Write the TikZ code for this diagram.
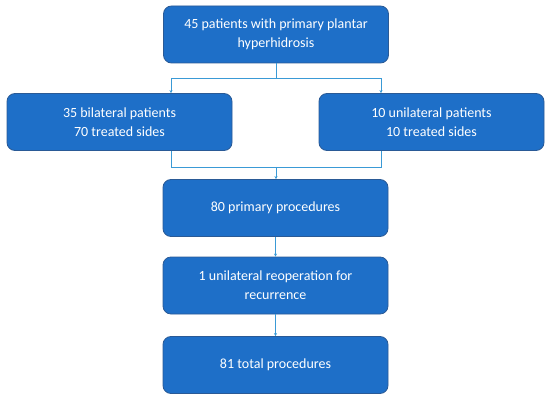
\documentclass[tikz,border=0pt]{standalone}
\usepackage{fontspec}
\setmainfont{Carlito}
\usetikzlibrary{arrows.meta,calc}
\definecolor{boxfill}{HTML}{1E6FC8}
\definecolor{boxdraw}{HTML}{2A5A96}
\definecolor{conncol}{HTML}{3A9AD6}
\begin{document}
\begin{tikzpicture}[x=1pt,y=1pt,
 box/.style={draw=boxdraw, line width=0.8pt, fill=boxfill, rounded corners=8pt, minimum width=225pt, minimum height=57pt, text=white, align=center, font=\fontsize{14}{19}\selectfont, inner sep=0pt},
 link/.style={draw=conncol, line width=0.9pt},
 arr/.style={link, -{Stealth[length=3pt,width=3pt]}}]
\useasboundingbox (0,0) rectangle (550,400);
\node[box] (top) at (276,365.5) {45 patients with primary plantar\\hyperhidrosis};
\node[box] (left) at (119.5,278) {35 bilateral patients\\70 treated sides};
\node[box] (right) at (431.5,278) {10 unilateral patients\\10 treated sides};
\node[box] (m1) at (275.5,192) {80 primary procedures};
\node[box] (m2) at (275.5,114.5) {1 unilateral reoperation for\\recurrence};
\node[box] (m3) at (275.5,35) {81 total procedures};
\coordinate (split) at (276,322);
\coordinate (join) at (276,233);
\coordinate (lx) at (171,0);
\coordinate (rx) at (381,0);
\draw[link] (top.south) -- (split);
\draw[arr] (split) -| (left.north -| lx);
\draw[arr] (split) -| (right.north -| rx);
\draw[link] (left.south -| lx) |- (join);
\draw[link] (right.south -| rx) |- (join);
\draw[arr] (join) -- (join |- m1.north);
\draw[arr] (m1) -- (m2);
\draw[arr] (m2) -- (m3);
\end{tikzpicture}
\end{document}
